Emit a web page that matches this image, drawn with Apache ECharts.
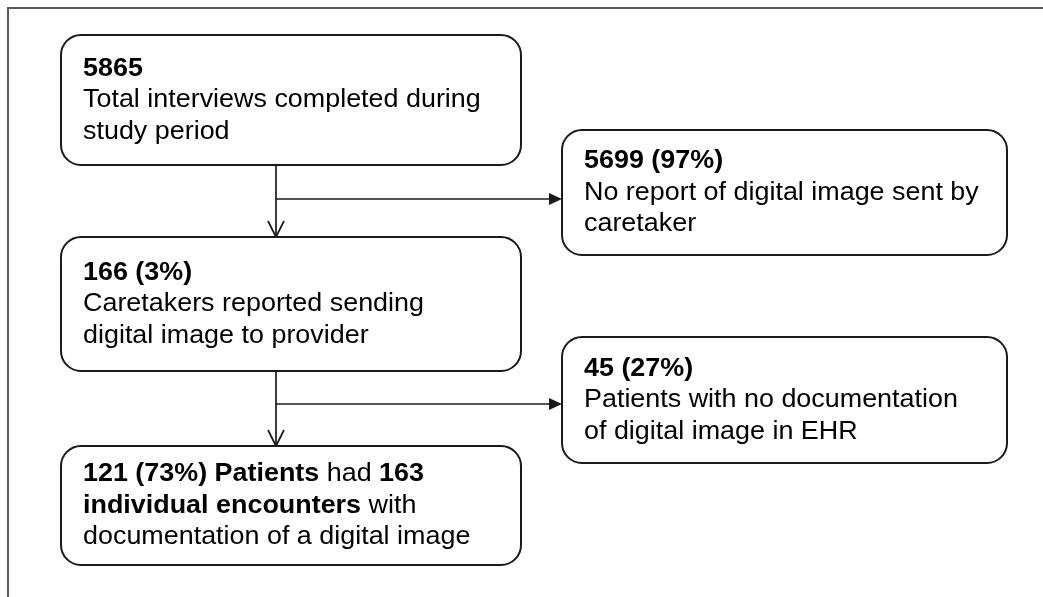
<!DOCTYPE html>
<html>
<head>
<meta charset="utf-8">
<script src="https://cdn.jsdelivr.net/npm/echarts@6/dist/echarts.min.js"></script>
<style>html,body{margin:0;padding:0;background:#fff;}#c{width:1043px;height:597px;}</style>
</head>
<body>
<div id="c"></div>
<script>
// ---- data: text of each flowchart box ----
const nodeCounts = ['5865', '5699 (97%)', '166 (3%)', '45 (27%)', '121 (73%)'];
const nodeLines = [
  ['Total interviews completed during', 'study period'],
  ['No report of digital image sent by', 'caretaker'],
  ['Caretakers reported sending', 'digital image to provider'],
  ['Patients with no documentation', 'of digital image in EHR'],
  null
];
const finalBoxRich = '{b|121 (73%) Patients}{n| had }{b|163}\n{b|individual encounters}{n| with}\n{n|documentation of a digital image}';
// links: [from, down-to, side-to]
const links = [[0, 2, 1], [2, 4, 3]];

// ---- layout (axis units) ----
const boxLayout = [
  [61, 521, 35, 165],
  [562, 1007, 130, 255],
  [61, 521, 237, 371],
  [562, 1007, 337, 463],
  [61, 521, 446, 565]
];
const trunkX = 276;
const branchY = [199, 404];

function boxText(i) {
  if (nodeLines[i] === null) return finalBoxRich;
  return '{b|' + nodeCounts[i] + '}\n' + nodeLines[i].map(s => '{n|' + s + '}').join('\n');
}

const FONT = '"Liberation Sans", Arial, sans-serif';
const FS = 25.5, LH = 31.5, SX = 1.055;

const chart = echarts.init(document.getElementById('c'), null, {renderer: 'canvas'});

function renderBox(params, api) {
  const i = api.value(0);
  const L = boxLayout[i];
  const p0 = api.coord([L[0], L[2]]);
  const p1 = api.coord([L[1], L[3]]);
  const tx = p0[0] + 22, ty = (p0[1] + p1[1]) / 2;
  return {
    type: 'group',
    children: [
      {type: 'rect', shape: {x: p0[0], y: p0[1], width: p1[0] - p0[0], height: p1[1] - p0[1], r: 20},
       style: {fill: '#fff', stroke: '#1a1a1a', lineWidth: 2}},
      {type: 'text', x: tx, y: ty, scaleX: SX, scaleY: 1, style: {
        x: 0, y: 0, text: boxText(i),
        align: 'left', verticalAlign: 'middle',
        fontFamily: FONT, fontSize: FS, lineHeight: LH, fill: '#000',
        rich: {
          b: {fontFamily: FONT, fontSize: FS, fontWeight: 'bold', lineHeight: LH, fill: '#000'},
          n: {fontFamily: FONT, fontSize: FS, fontWeight: 'normal', lineHeight: LH, fill: '#000'}
        }
      }}
    ]
  };
}

function renderLink(params, api) {
  const k = api.value(0);
  const lk = links[k];
  const src = boxLayout[lk[0]], dn = boxLayout[lk[1]], side = boxLayout[lk[2]];
  const a = api.coord([trunkX, src[3]]);
  const b = api.coord([trunkX, dn[2]]);
  const h0 = api.coord([trunkX, branchY[k]]);
  const h1 = api.coord([side[0], branchY[k]]);
  const st = {stroke: '#1a1a1a', lineWidth: 1.7, fill: null};
  return {
    type: 'group',
    children: [
      {type: 'polyline', shape: {points: [a, b]}, style: st},
      {type: 'polyline', shape: {points: [[b[0] - 8, b[1] - 16], b, [b[0] + 8, b[1] - 16]]}, style: st},
      {type: 'polyline', shape: {points: [h0, [h1[0] - 10, h1[1]]]}, style: st},
      {type: 'polygon', shape: {points: [[h1[0] - 13, h1[1] - 6], h1, [h1[0] - 13, h1[1] + 6]]},
       style: {fill: '#1a1a1a', stroke: null}}
    ]
  };
}

chart.setOption({
  animation: false,
  backgroundColor: '#fff',
  grid: {left: 0, right: 0, top: 0, bottom: 0},
  xAxis: {type: 'value', min: 0, max: 1043, show: false},
  yAxis: {type: 'value', min: 0, max: 597, inverse: true, show: false},
  graphic: [
    {type: 'polyline', shape: {points: [[8, 597], [8, 8], [1043, 8]]},
     style: {stroke: '#5a5a5a', lineWidth: 2, fill: null}, silent: true}
  ],
  series: [
    {type: 'custom', renderItem: renderLink, data: links.map((l, i) => [i, 0]), silent: true, clip: false, z: 1},
    {type: 'custom', renderItem: renderBox, data: nodeCounts.map((c, i) => [i, 0]), silent: true, clip: false, z: 2}
  ]
});
</script>
</body>
</html>
